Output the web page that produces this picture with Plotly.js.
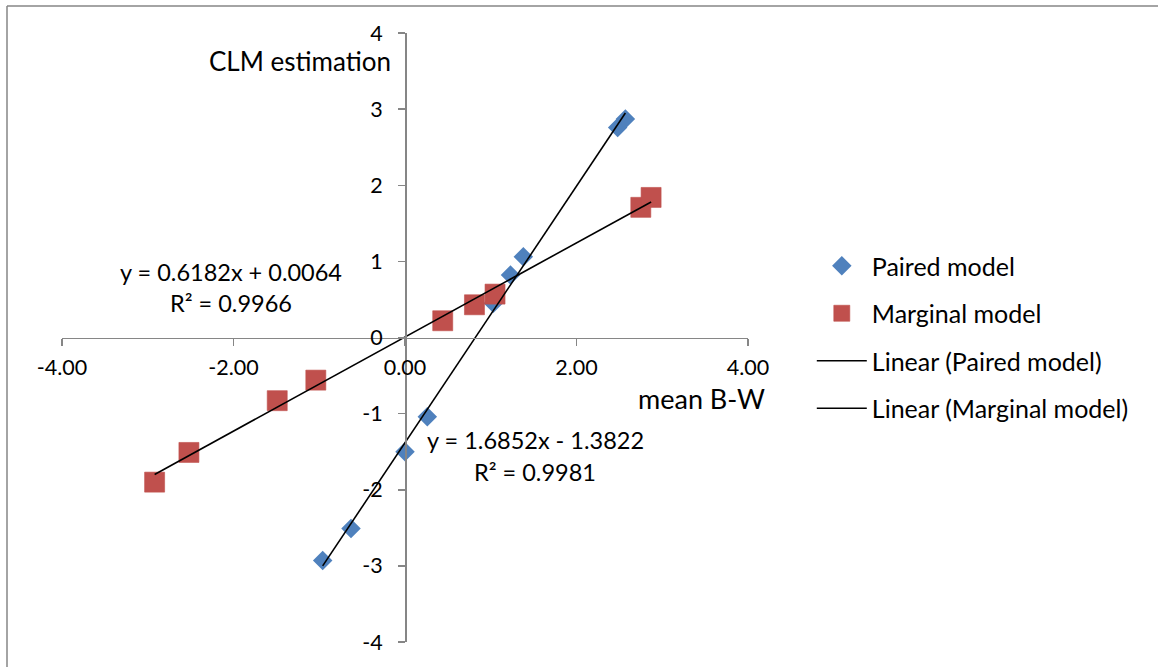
<!DOCTYPE html>
<html>
<head>
<meta charset="utf-8">
<script src="https://cdn.plot.ly/plotly-3.0.1.min.js"></script>
<style>
html,body{margin:0;padding:0;background:#fff;}
#chart{width:1158px;height:667px;}
</style>
</head>
<body>
<div id="chart"></div>
<script>
// Data
var pairedX = [-0.96, -0.63, 0.00, 0.26, 1.03, 1.23, 1.38, 2.48, 2.57];
var pairedY = [-2.93, -2.51, -1.50, -1.04, 0.45, 0.82, 1.06, 2.76, 2.87];
var marginalX = [-2.92, -2.52, -1.49, -1.04, 0.44, 0.81, 1.05, 2.75, 2.87];
var marginalY = [-1.90, -1.51, -0.83, -0.56, 0.22, 0.43, 0.57, 1.71, 1.84];
var pairedFit = {slope: 1.6852, intercept: -1.3822, r2: 0.9981};
var marginalFit = {slope: 0.6182, intercept: 0.0064, r2: 0.9966};
var seriesNames = ['Paired model', 'Marginal model'];
var xTickVals = [-4, -2, 0, 2, 4];
var xTickText = ['-4.00', '-2.00', '0.00', '2.00', '4.00'];
var yTickVals = [-4, -3, -2, -1, 0, 1, 2, 3, 4];
var yTickText = ['-4', '-3', '-2', '-1', '0', '1', '2', '3', '4'];
var xTitle = 'mean B-W';
var yTitle = 'CLM estimation';

function fitLine(xs, fit) {
  var lo = Math.min.apply(null, xs), hi = Math.max.apply(null, xs);
  return {x: [lo, hi], y: [fit.slope * lo + fit.intercept, fit.slope * hi + fit.intercept]};
}
function eqText(fit) {
  var s = fit.intercept < 0 ? ' - ' : ' + ';
  return 'y = ' + fit.slope.toFixed(4) + 'x' + s + Math.abs(fit.intercept).toFixed(4);
}

var FONT = 'Lato, "Open Sans", sans-serif';
var pl = fitLine(pairedX, pairedFit);
var ml = fitLine(marginalX, marginalFit);

var traces = [
  {x: pairedX, y: pairedY, mode: 'markers', type: 'scatter', name: seriesNames[0], legendgroup: 'a',
   marker: {symbol: 'diamond', size: 15, color: '#4F81BD', line: {width: 0}}},
  {x: marginalX, y: marginalY, mode: 'markers', type: 'scatter', name: seriesNames[1], legendgroup: 'b',
   marker: {symbol: 'square', size: 20, color: '#C0504D', line: {width: 1, color: 'rgba(192,80,77,0.6)'}}},
  {x: pl.x, y: pl.y, mode: 'lines', type: 'scatter', name: 'Linear (' + seriesNames[0] + ')', legendgroup: 'c',
   line: {color: '#000', width: 1.6}},
  {x: ml.x, y: ml.y, mode: 'lines', type: 'scatter', name: 'Linear (' + seriesNames[1] + ')', legendgroup: 'd',
   line: {color: '#000', width: 1.6}}
];

var axisColor = '#868686';
function px2x(p) { return (p - 62) / 686; }
function px2y(p) { return (642 - p) / 609; }

var layout = {
  width: 1158, height: 667,
  margin: {l: 62, r: 410, t: 33, b: 25},
  paper_bgcolor: '#fff', plot_bgcolor: '#fff',
  font: {family: FONT, size: 21, color: '#000'},
  showlegend: true,
  xaxis: {
    range: [-4, 4], tickvals: xTickVals, ticktext: xTickText,
    anchor: 'free', position: 0.5,
    showgrid: false, zeroline: false, showline: true, linecolor: axisColor, linewidth: 1.5,
    ticks: 'outside', ticklen: 7, tickcolor: axisColor, tickwidth: 1.5,
    ticklabelstandoff: 3,
    tickfont: {family: FONT, size: 21.5, color: '#000'}
  },
  yaxis: {
    range: [-4, 4], tickvals: yTickVals, ticktext: yTickText,
    anchor: 'free', position: 0.5,
    showgrid: false, zeroline: false, showline: true, linecolor: axisColor, linewidth: 1.5,
    ticks: 'outside', ticklen: 7, tickcolor: axisColor, tickwidth: 1.5,
    ticklabelstandoff: 11,
    tickfont: {family: FONT, size: 21.5, color: '#000'}
  },
  legend: {
    x: 1.093, y: px2y(243), xanchor: 'left', yanchor: 'top',
    traceorder: 'grouped', tracegroupgap: 12, itemwidth: 50,
    font: {family: FONT, size: 25, color: '#000'},
    bgcolor: 'rgba(0,0,0,0)'
  },
  annotations: [
    {xref: 'paper', yref: 'paper', x: px2x(393), y: px2y(61), xanchor: 'right', yanchor: 'middle',
     text: yTitle, showarrow: false, font: {family: FONT, size: 26}},
    {xref: 'paper', yref: 'paper', x: px2x(636), y: px2y(398), xanchor: 'left', yanchor: 'middle',
     text: xTitle, showarrow: false, font: {family: FONT, size: 27}},
    {xref: 'paper', yref: 'paper', x: px2x(231), y: px2y(272), xanchor: 'center', yanchor: 'middle',
     text: eqText(marginalFit), showarrow: false, font: {family: FONT, size: 23.5}},
    {xref: 'paper', yref: 'paper', x: px2x(231), y: px2y(303), xanchor: 'center', yanchor: 'middle',
     text: 'R² = ' + marginalFit.r2.toFixed(4), showarrow: false, font: {family: FONT, size: 23.5}},
    {xref: 'paper', yref: 'paper', x: px2x(535), y: px2y(440), xanchor: 'center', yanchor: 'middle',
     text: eqText(pairedFit), showarrow: false, font: {family: FONT, size: 23.5}},
    {xref: 'paper', yref: 'paper', x: px2x(535), y: px2y(472), xanchor: 'center', yanchor: 'middle',
     text: 'R² = ' + pairedFit.r2.toFixed(4), showarrow: false, font: {family: FONT, size: 23.5}}
  ],
  shapes: [
    {type: 'line', xref: 'paper', yref: 'paper', x0: px2x(7), x1: px2x(7),
     y0: px2y(6), y1: px2y(680), line: {color: axisColor, width: 1.5}},
    {type: 'line', xref: 'paper', yref: 'paper', x0: px2x(7), x1: px2x(1170),
     y0: px2y(6), y1: px2y(6), line: {color: axisColor, width: 1.5}}
  ]
};

Plotly.newPlot('chart', traces, layout, {displayModeBar: false, staticPlot: true});
</script>
</body>
</html>
